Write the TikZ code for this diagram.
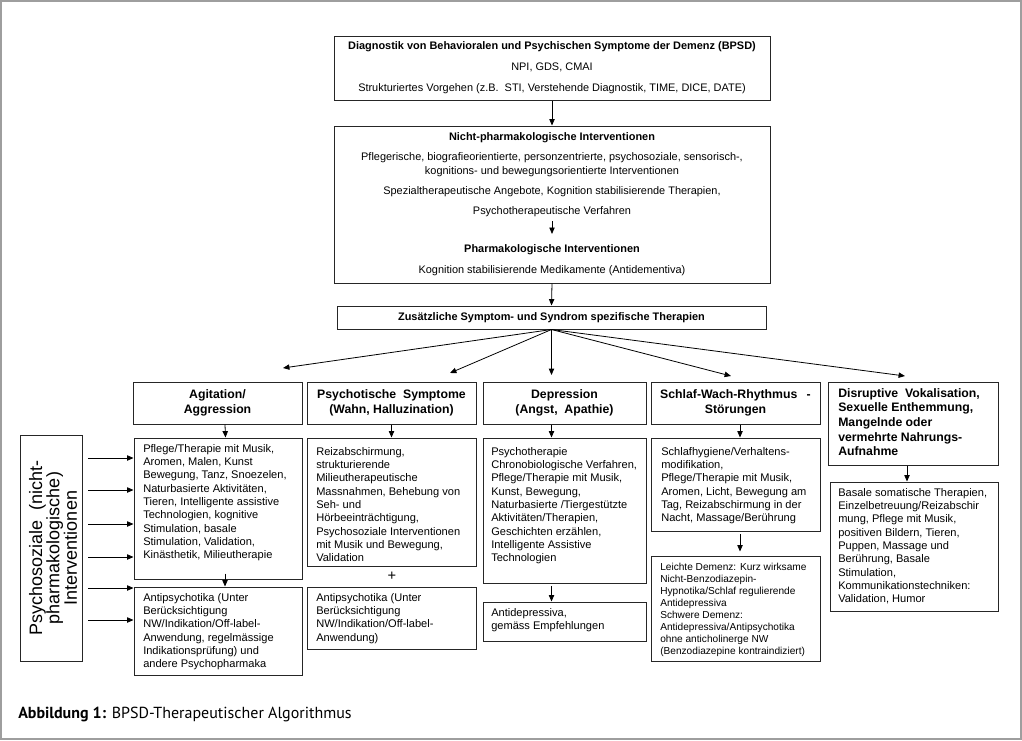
\documentclass[tikz,border=0pt]{standalone}
\usepackage{fontspec}
\setmainfont{Liberation Sans}
\newfontfamily\capfont{PT Sans}
\usetikzlibrary{arrows.meta,fit,calc}
\newcommand\fsz[2]{\fontsize{#1}{#2}\selectfont}
\begin{document}
\begin{tikzpicture}[x=0.75pt,y=-0.75pt,
  bx/.style={draw=black!85, line width=0.75pt, inner sep=0pt, fit={#1}},
  arr/.style={-{Triangle[length=4.8pt,width=4pt]}, line width=0.6pt, draw=black},
  ct/.style={font=\fsz{8.3}{10}, align=left, anchor=north west, inner sep=0pt},
  cs/.style={font=\fsz{8.2}{10.5}, align=center, inner sep=0pt},
  csb/.style={font=\bfseries\fsz{8.2}{10.5}, align=center, inner sep=0pt},
  ht/.style={font=\bfseries\fsz{9.2}{10.8}, align=center, inner sep=0pt},
]
\useasboundingbox (0,0) rectangle (1022,740);
\draw[black!38, line width=1.5pt] (1,1) rectangle (1021,739);

% top box
\node[bx={(334,36) (770,100)}] (diag) {};
\node[csb] (t1) at (552,47) {Diagnostik von Behavioralen und Psychischen Symptome der Demenz (BPSD)};
\node[cs] (t2) at (552,67) {NPI, GDS, CMAI};
\node[cs] (t3) at (552,89) {Strukturiertes Vorgehen (z.B.\ \ STI, Verstehende Diagnostik, TIME, DICE, DATE)};

% second box
\node[bx={(334,126) (770,283)}] (nph) {};
\node[csb] (n1) at (552,138) {Nicht-pharmakologische Interventionen};
\node[cs] (n2) at (552,165) {Pflegerische, biografieorientierte, personzentrierte, psychosoziale, sensorisch-,\\kognitions- und bewegungsorientierte Interventionen};
\node[cs] (n3) at (552,192) {Spezialtherapeutische Angebote, Kognition stabilisierende Therapien,};
\node[cs] (n4) at (552,212) {Psychotherapeutische Verfahren};
\node[csb] (n5) at (552,250) {Pharmakologische Interventionen};
\node[cs] (n6) at (552,271) {Kognition stabilisierende Medikamente (Antidementiva)};
\draw[arr, shorten <=3pt, shorten >=8pt] (n4) -- (n5);

% third box
\node[bx={(337,306) (766,329)}] (zus) {};
\node[csb] (z1) at (zus.center) {Zusätzliche Symptom- und Syndrom spezifische Therapien};

\draw[arr] (diag.south) -- (nph.north);
\draw[arr] (nph.south) -- (zus.north);

% fan
\coordinate (fa) at (283,368);
\coordinate (fb) at (450,373);
\coordinate (fc) at (551.5,375);
\coordinate (fd) at (731,376);
\coordinate (fe) at (905,376);
\foreach \c in {fa,fb,fc,fd,fe} \draw[arr] (zus.south) -- (\c);

% header boxes
\node[bx={(133,382) (302,424)}] (agh) {};
\node[ht] at (agh.center) {Agitation/\\Aggression};
\node[bx={(307,382) (476,424)}] (psh) {};
\node[ht] at (psh.center) {Psychotische\ \ Symptome\\(Wahn, Halluzination)};
\node[bx={(483,382) (646,424)}] (deh) {};
\node[ht] at (deh.center) {Depression\\(Angst,\ \ Apathie)};
\node[bx={(651,382) (820,424)}] (slh) {};
\node[ht] at (slh.center) {Schlaf-Wach-Rhythmus\hspace{7pt}-\\Störungen};
\node[bx={(828,382) (998,465)}] (dih) {};
\node[ht, align=left, anchor=north west, font=\bfseries\fsz{9.2}{11}] at (838,388) {Disruptive\ \ Vokalisation,\\Sexuelle Enthemmung,\\Mangelnde oder\\vermehrte Nahrungs-\\Aufnahme};

% content boxes
\node[bx={(134,438) (302,579)}] (agc) {};
\node[ct] at (143,444) {Pflege/Therapie mit Musik,\\Aromen, Malen, Kunst\\Bewegung, Tanz, Snoezelen,\\Naturbasierte Aktivitäten,\\Tieren, Intelligente assistive\\Technologien, kognitive\\Stimulation, basale\\Stimulation, Validation,\\Kinästhetik, Milieutherapie};
\node[bx={(134,587) (302,675)}] (aga) {};
\node[ct] at (143,593) {Antipsychotika (Unter\\Berücksichtigung\\NW/Indikation/Off-label-\\Anwendung, regelmässige\\Indikationsprüfung) und\\andere Psychopharmaka};

\node[bx={(307,438) (476,566)}] (psc) {};
\node[ct] at (316,447) {Reizabschirmung,\\strukturierende\\Milieutherapeutische\\Massnahmen, Behebung von\\Seh- und\\Hörbeeinträchtigung,\\Psychosoziale Interventionen\\mit Musik und Bewegung,\\Validation};
\node[font=\fsz{11}{12}, inner sep=0pt] (plus) at (392,576) {+};
\node[bx={(307,587) (476,649)}] (psa) {};
\node[ct] at (316,593) {Antipsychotika (Unter\\Berücksichtigung\\NW/Indikation/Off-label-\\Anwendung)};

\node[bx={(483,438) (646,583)}] (dec) {};
\node[ct] at (491,447) {Psychotherapie\\Chronobiologische Verfahren,\\Pflege/Therapie mit Musik,\\Kunst, Bewegung,\\Naturbasierte /Tiergestützte\\Aktivitäten/Therapien,\\Geschichten erzählen,\\Intelligente Assistive\\Technologien};
\node[bx={(483,602) (646,641)}] (dea) {};
\node[ct] at (491,608) {Antidepressiva,\\gemäss Empfehlungen};

\node[bx={(651,438) (820,531)}] (slc) {};
\node[ct] at (661,447) {Schlafhygiene/Verhaltens-\\modifikation,\\Pflege/Therapie mit Musik,\\Aromen, Licht, Bewegung am\\Tag, Reizabschirmung in der\\Nacht, Massage/Berührung};
\node[bx={(651,556) (820,661)}] (sla) {};
\node[ct, font=\fsz{7.6}{9}] at (660,563) {Leichte Demenz: Kurz wirksame\\Nicht-Benzodiazepin-\\Hypnotika/Schlaf regulierende\\Antidepressiva\\Schwere Demenz:\\Antidepressiva/Antipsychotika\\ohne anticholinerge NW\\(Benzodiazepine kontraindiziert)};

\node[bx={(830,482) (998,611)}] (dic) {};
\node[ct] at (838,488) {Basale somatische Therapien,\\Einzelbetreuung/Reizabschir\\mung, Pflege mit Musik,\\positiven Bildern, Tieren,\\Puppen, Massage und\\Berührung, Basale\\Stimulation,\\Kommunikationstechniken:\\Validation, Humor};

% header -> content arrows
\draw[arr] ($(agh.south)+(7.5,0)$) -- ($(agc.north)+(7.5,0)$);
\draw[arr] (psh.south) -- (psc.north);
\draw[arr] ($(deh.south)+(-13,0)$) -- ($(dec.north)+(-13,0)$);
\draw[arr] ($(slh.south)+(4.5,0)$) -- ($(slc.north)+(4.5,0)$);
\draw[arr] ($(dih.south)+(-6,0)$) -- ($(dic.north)+(-7,0)$);

% content -> second arrows
\draw[arr] ($(agc.south)+(7,-6)$) -- ($(aga.north)+(7,0)$);
\draw[arr, shorten <=2pt] ($(dec.south)+(-13,0)$) -- ($(dea.north)+(-13,0)$);
\draw[arr, shorten <=2pt, shorten >=3pt] ($(slc.south)+(4.5,0)$) -- ($(sla.north)+(4.5,0)$);

% left box
\node[bx={(20,435) (82,661)}] (lp) {};
\node[rotate=90, align=center, font=\fsz{13.5}{13}, inner sep=0pt] (lpt) at ($(lp.center)+(2,0)$) {Psychosoziale\ \ (nicht-\\pharmakologische)\\Interventionen};
\foreach \yy/\tt in {458/agc,490/agc,524/agc,557/agc,588/aga,620/aga} {
  \coordinate (l\yy) at (88,\yy);
  \draw[arr] (l\yy) -- (l\yy -| \tt.west);
}

% caption
\node[anchor=base west, font=\capfont\fsz{12}{14}, inner sep=0pt] (cap) at (18,718) {\textbf{Abbildung 1:} BPSD-Therapeutischer Algorithmus};
\end{tikzpicture}
\end{document}
